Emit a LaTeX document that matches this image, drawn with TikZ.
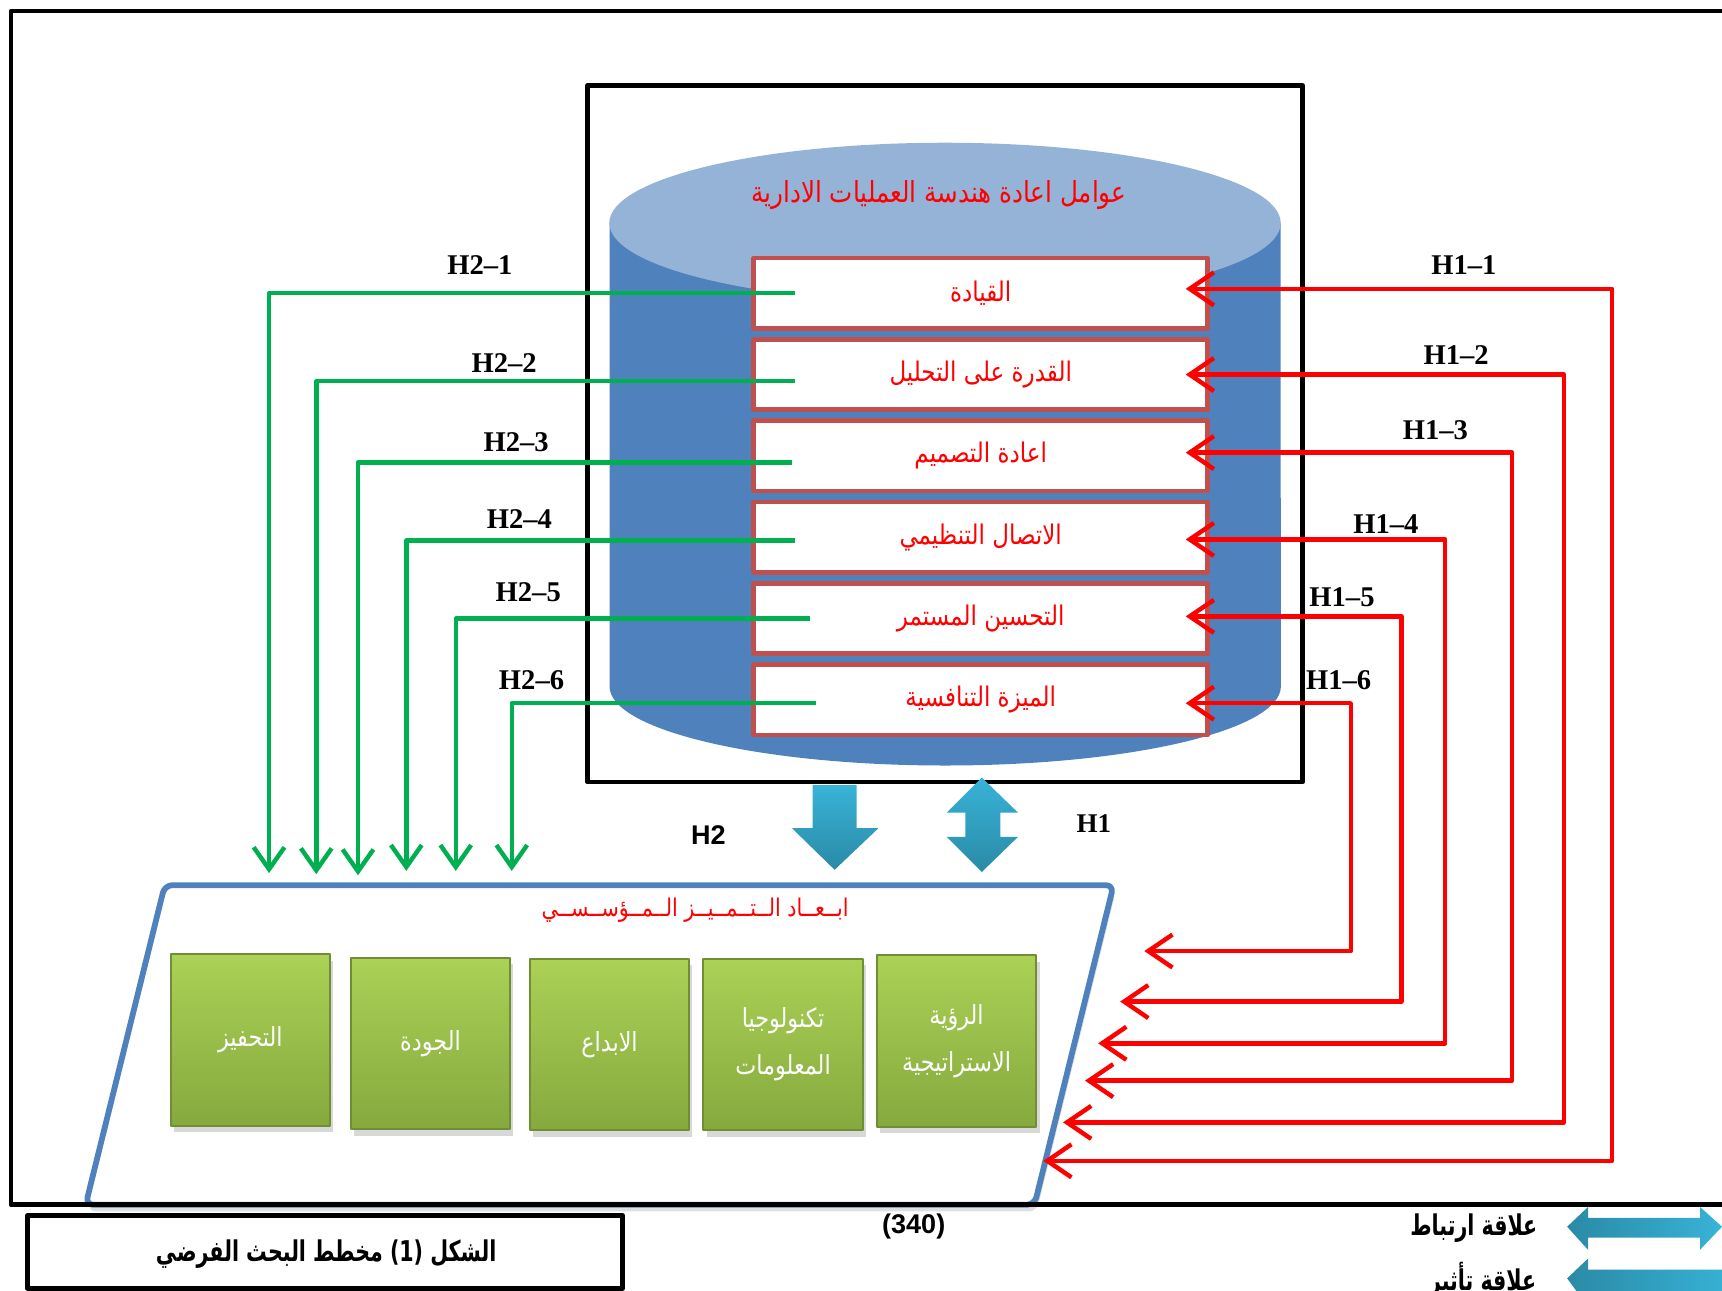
\documentclass[tikz,border=0pt]{standalone}
\usepackage{fontspec}
\setmainfont{Liberation Serif}
\newfontfamily\arabicfont[Script=Arabic, FakeStretch=0.85]{DejaVu Sans}
\newfontfamily\arabicbold[Script=Arabic, FakeStretch=0.72]{DejaVu Sans}
\newfontfamily\sansfont{Liberation Sans}
\TeXXeTstate=1
\usetikzlibrary{positioning,calc,arrows.meta,shadows}

\definecolor{canside}{HTML}{4F81BD}
\definecolor{cantop}{HTML}{95B3D7}
\definecolor{boxred}{HTML}{C0504D}
\definecolor{hgreen}{HTML}{00B050}
\definecolor{dimtop}{HTML}{ABD156}
\definecolor{dimbot}{HTML}{86A93E}
\definecolor{dimedge}{HTML}{708F34}
\definecolor{arrlight}{HTML}{38B3D7}
\definecolor{arrdark}{HTML}{2A8AA6}

\begin{document}
\begin{tikzpicture}[line join=round, x=0.01cm, y=-0.01cm,
  factor/.style={draw=boxred, line width=1.2pt, fill=white, minimum width=4.13cm,
    minimum height=0.64cm, inner sep=0pt, text=red, font=\arabicfont\fontsize{7}{9}\selectfont},
  dimbox/.style={draw=dimedge, line width=0.5pt, top color=dimtop, bottom color=dimbot,
    minimum width=1.45cm, minimum height=1.56cm, inner sep=0pt, text=white, align=center,
    font=\arabicfont\fontsize{6.8}{12.2}\selectfont,
    drop shadow={opacity=0.3, shadow xshift=0.03cm, shadow yshift=-0.06cm}},
  hlab/.style={font=\bfseries\fontsize{7.4}{9}\selectfont},
  h2line/.style={draw=hgreen, line width=1.15pt, -{Straight Barb[length=0.2cm, width=0.28cm]}},
  h1line/.style={draw=red, line width=1.15pt,
    {Straight Barb[length=0.22cm, width=0.3cm]}-{Straight Barb[length=0.22cm, width=0.3cm]}},
  blockarrow/.style={top color=arrlight, bottom color=arrdark}]
\useasboundingbox (0,0) rectangle (1568,1175);
\clip (0,0) rectangle (1568,1175);

% factors box and can
\draw[line width=1.2pt] (535,78) rectangle (1186,712);
\fill[canside] (555,203) -- (555,625) arc[start angle=180, end angle=360, x radius=3.055cm, y radius=0.72cm]
  -- (1166,203) -- cycle;
\fill[cantop] (860.5,203) ellipse [x radius=3.055cm, y radius=0.73cm];
\node[text=red, font=\arabicfont\fontsize{7.5}{9}\selectfont] (T) at (855,178)
  {\beginR عوامل اعادة هندسة العمليات الادارية\endR};

\node[factor] (F1) at (893,267) {\beginR القيادة\endR};
\node[factor, below=0.058cm of F1] (F2) {\beginR القدرة على التحليل\endR};
\node[factor, below=0.058cm of F2] (F3) {\beginR اعادة التصميم\endR};
\node[factor, below=0.058cm of F3] (F4) {\beginR الاتصال التنظيمي\endR};
\node[factor, below=0.058cm of F4] (F5) {\beginR التحسين المستمر\endR};
\node[factor, below=0.058cm of F5] (F6) {\beginR الميزة التنافسية\endR};

% excellence dimensions
\draw[draw=canside, line width=1.5pt, fill=white, rounded corners=2pt,
  drop shadow={opacity=0.25, shadow xshift=0.02cm, shadow yshift=-0.06cm}]
  (150,806) -- (1014,806) -- (942,1097) -- (78,1097) -- cycle;
\node[text=red, font=\arabicfont\fontsize{6.3}{8}\selectfont] (P) at (633,829)
  {\beginR ابــعــاد الــتــمــيــز الــمــؤســســي\endR};
\node[dimbox] (D1) at (228,947) {\beginR التحفيز\endR};
\node[dimbox] (D2) at (392,950) {\beginR الجودة\endR};
\node[dimbox] (D3) at (555,951) {\beginR الابداع\endR};
\node[dimbox] (D4) at (713,951) {\beginR تكنولوجيا\endR\\\beginR المعلومات\endR};
\node[dimbox] (D5) at (871,948) {\beginR الرؤية\endR\\\beginR الاستراتيجية\endR};

% H2 links
\coordinate (g1) at (245,795);
\coordinate (g2) at (288,796);
\coordinate (g3) at (326,797);
\coordinate (g4) at (370,793);
\coordinate (g5) at (415,793);
\coordinate (g6) at (466,793);
\draw[h2line] ($(F1.west)+(40,0)$) -| (g1);
\draw[h2line] ($(F2.west)+(40,6)$) -| (g2);
\draw[h2line] ($(F3.west)+(37,6)$) -| (g3);
\draw[h2line] ($(F4.west)+(40,3)$) -| (g4);
\draw[h2line] ($(F5.west)+(53,0)$) -| (g5);
\draw[h2line] ($(F6.west)+(59,3)$) -| (g6);
\node[hlab] (h21) at (437,241) {H2–1};
\node[hlab] (h22) at (459,331) {H2–2};
\node[hlab] (h23) at (470,403) {H2–3};
\node[hlab] (h24) at (473,473) {H2–4};
\node[hlab] (h25) at (481,539) {H2–5};
\node[hlab] (h26) at (484,619) {H2–6};

% H1 links
\coordinate (r1) at (1468,1057); \coordinate (p1) at (950,1057);
\coordinate (r2) at (1424,1022); \coordinate (p2) at (968,1022);
\coordinate (r3) at (1377,984);  \coordinate (p3) at (988,984);
\coordinate (r4) at (1316,950);  \coordinate (p4) at (1000,950);
\coordinate (r5) at (1276,912);  \coordinate (p5) at (1020,912);
\coordinate (r6) at (1230,866);  \coordinate (p6) at (1042,866);
\draw[h1line] ($(F1.east)+(-22,-4)$) -| (r1) -- (p1);
\draw[h1line] ($(F2.east)+(-22,0)$) -| (r2) -- (p2);
\draw[h1line] ($(F3.east)+(-22,-3)$) -| (r3) -- (p3);
\draw[h1line] ($(F4.east)+(-22,2)$) -| (r4) -- (p4);
\draw[h1line] ($(F5.east)+(-22,-2)$) -| (r5) -- (p5);
\draw[h1line] ($(F6.east)+(-22,3)$) -| (r6) -- (p6);
\node[hlab] (h11) at (1333,241) {H1–1};
\node[hlab] (h12) at (1326,323) {H1–2};
\node[hlab] (h13) at (1307,392) {H1–3};
\node[hlab] (h14) at (1262,477) {H1–4};
\node[hlab] (h15) at (1222,544) {H1–5};
\node[hlab] (h16) at (1219,619) {H1–6};

% H2 and H1 block arrows
\shade[blockarrow] (740,715) -- (780,715) -- (780,754) -- (800,754) -- (760,792)
  -- (721,754) -- (740,754) -- cycle;
\shade[blockarrow] (894,708) -- (927,740) -- (911,740) -- (911,762) -- (927,762)
  -- (894,794) -- (862,762) -- (879,762) -- (879,740) -- (862,740) -- cycle;
\node[font=\sansfont\bfseries\fontsize{7}{8}\selectfont] (H2) at (645,760) {H2};
\node[font=\bfseries\fontsize{7}{8}\selectfont] (H1) at (996,750) {H1};

% caption and legend
\draw[line width=1.2pt] (25,1107) rectangle (567,1173);
\node[font=\arabicbold\bfseries\fontsize{7.4}{10}\selectfont] (C) at (297,1142)
  {\beginR الشكل \beginL(1)\endL{} مخطط البحث الفرضي\endR};
\node[font=\sansfont\bfseries\fontsize{7}{8}\selectfont] (N) at (832,1117) {(340)};
\shade[left color=arrdark, right color=arrlight] (1427,1117) -- (1446,1099) -- (1446,1109)
  -- (1548,1109) -- (1548,1099) -- (1568,1117) -- (1548,1138) -- (1548,1127)
  -- (1446,1127) -- (1446,1138) -- cycle;
\shade[left color=arrdark, right color=arrlight] (1427,1164) -- (1446,1146) -- (1446,1156)
  -- (1580,1156) -- (1580,1190) -- (1446,1190) -- cycle;
\node[font=\arabicbold\bfseries\fontsize{7.4}{9}\selectfont] (L1) at (1342,1118)
  {\beginR علاقة ارتباط\endR};
\node[font=\arabicbold\bfseries\fontsize{7.4}{9}\selectfont] (L2) at (1350,1165)
  {\beginR علاقة تأثير\endR};

% outer frame
\draw[line width=1.2pt] (1600,10) -- (10,10) -- (10,1097) -- (1600,1097);
\end{tikzpicture}
\end{document}
